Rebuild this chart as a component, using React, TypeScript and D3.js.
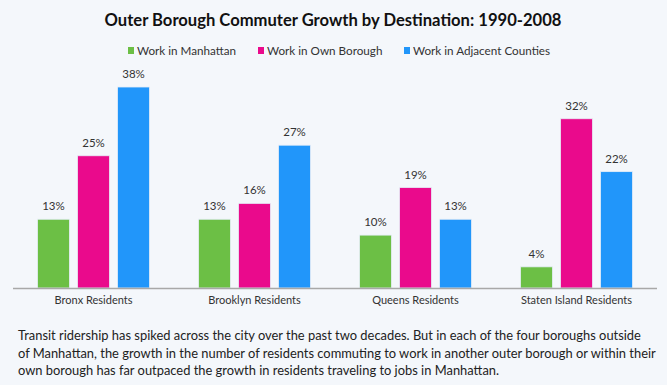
import React from "react";
import * as d3 from "d3";

const categories = ["Bronx Residents", "Brooklyn Residents", "Queens Residents", "Staten Island Residents"];
const seriesNames = ["Work in Manhattan", "Work in Own Borough", "Work in Adjacent Counties"];
const manhattan = [13, 13, 10, 4];
const ownBorough = [25, 16, 19, 32];
const adjacent = [38, 27, 13, 22];
const seriesValues = [manhattan, ownBorough, adjacent];
const colors = ["#6cbf45", "#ea0a8c", "#2196fa"];
const title = "Outer Borough Commuter Growth by Destination: 1990-2008";
const footer = [
  "Transit ridership has spiked across the city over the past two decades. But in each of the four boroughs outside",
  "of Manhattan, the growth in the number of residents commuting to work in another outer borough or within their",
  "own borough has far outpaced the growth in residents traveling to jobs in Manhattan.",
];

const W = 667;
const H = 385;
const FONT = "Lato, 'Noto Sans', sans-serif";

export default function App() {
  const x0 = d3.scaleBand<string>().domain(categories).range([13, 657]).paddingInner(0.304).paddingOuter(0.152);
  const x1 = d3.scaleBand<string>().domain(seriesNames).range([0, x0.bandwidth()]).paddingInner(0.2);
  const y = d3.scaleLinear().domain([0, 38]).range([288, 87]);
  const legendX = [128, 258, 404];

  return (
    <svg width={W} height={H} style={{ position: "absolute", left: 0, top: 0, background: "#f4f7fb" }} fontFamily={FONT}>
      <rect width={W} height={H} fill="#f4f7fb" />
      <text x={333} y={26} textAnchor="middle" fontSize={16.6} fontWeight={700} fill="#111">{title}</text>
      {seriesNames.map((s, i) => (
        <g key={s}>
          <rect x={legendX[i]} y={47} width={6} height={7} fill={colors[i]} />
          <text x={legendX[i] + 9} y={54.5} fontSize={11.7} fill="#333">{s}</text>
        </g>
      ))}
      {categories.map((c, ci) => (
        <g key={c} transform={`translate(${x0(c)},0)`}>
          {seriesNames.map((s, si) => {
            const v = seriesValues[si][ci];
            const bx = x1(s)!;
            return (
              <g key={s}>
                <rect x={bx} y={y(v)} width={x1.bandwidth()} height={y(0) - y(v)} fill={colors[si]} stroke="#e6eef8" strokeWidth={0.8} />
                <text x={bx + x1.bandwidth() / 2} y={y(v) - 9} textAnchor="middle" fontSize={11.5} fill="#333">{v}%</text>
              </g>
            );
          })}
          <text x={x0.bandwidth() / 2} y={304} textAnchor="middle" fontSize={11} fill="#333">{c}</text>
        </g>
      ))}
      <line x1={13} x2={657} y1={288.5} y2={288.5} stroke="#a8a8a8" strokeWidth={1.5} />
      {footer.map((t, i) => (
        <text key={i} x={18} y={340 + i * 17.5} fontSize={12.9} fill="#222">{t}</text>
      ))}
    </svg>
  );
}
